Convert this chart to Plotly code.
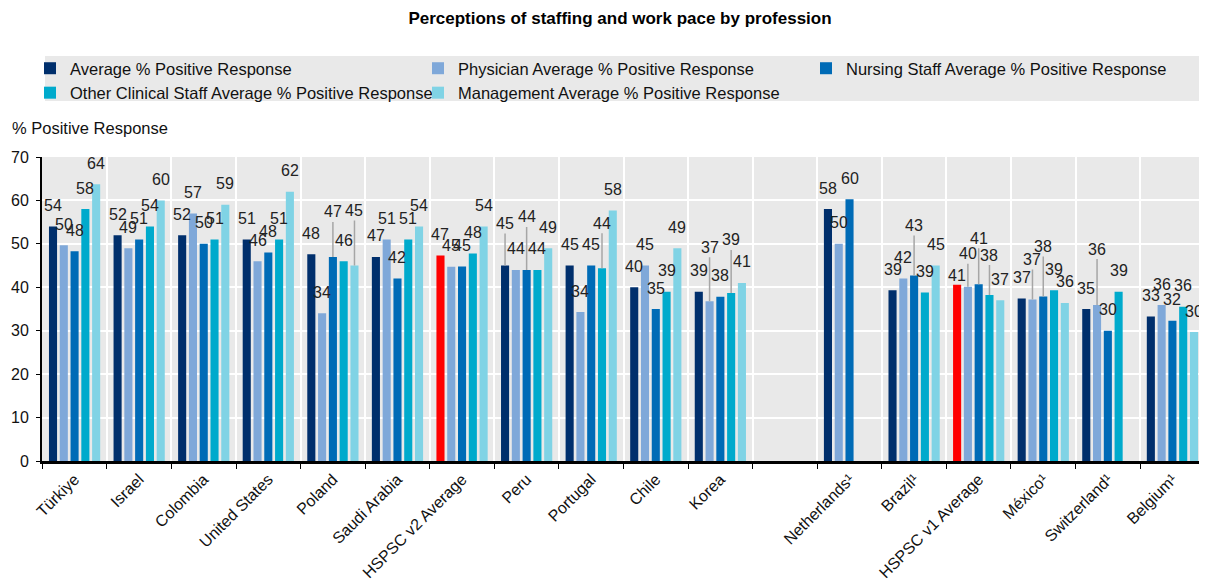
import plotly.graph_objects as go

categories = ["Türkiye", "Israel", "Colombia", "United States", "Poland", "Saudi Arabia",
              "HSPSC v2 Average", "Peru", "Portugal", "Chile", "Korea", " ",
              "Netherlands¹", "Brazil¹", "HSPSC v1 Average", "México¹", "Switzerland¹", "Belgium¹"]

average = [54, 52, 52, 51, 47.6, 47, 47.3, 45, 45, 40, 39, None, 58, 39.3, 40.6, 37.4, 35, 33.3]
physician = [49.7, 49, 57, 46, 34, 51, 44.7, 44, 34.3, 45, 36.8, None, 50, 42, 40.1, 37.2, 35.9, 35.9]
nursing = [48.3, 51, 50, 48, 47, 42, 44.8, 44, 45, 35, 37.8, None, 60.3, 42.7, 40.7, 37.9, 30, 32.3]
other_clinical = [58, 54, 51, 51, 46, 51, 47.8, 44, 44.4, 39, 38.7, None, None, 38.8, 38.2, 39.3, 39, 35.5]
management = [63.7, 60, 59, 62, 45, 54, 54, 49, 57.7, 49, 41, None, None, 45, 37, 36.4, None, 29.7]

series_names = ["Average % Positive Response",
                "Physician Average % Positive Response",
                "Nursing Staff Average % Positive Response",
                "Other Clinical Staff Average % Positive Response",
                "Management Average % Positive Response"]
series_values = [average, physician, nursing, other_clinical, management]
series_colors = ["#002F6C", "#7FA8D9", "#006BB6", "#00AACC", "#80D3E5"]
highlight = {"HSPSC v2 Average", "HSPSC v1 Average"}

# label placement (pixels above the bar top); labels lifted with a leader line
DEFAULT_LABEL_GAP = 21
label_gap = {
    ("Poland", 2): 45, ("Poland", 4): 55,
    ("Peru", 0): 42, ("Peru", 2): 53,
    ("Portugal", 3): 45,
    ("Korea", 1): 54, ("Korea", 3): 53,
    ("Brazil¹", 2): 50,
    ("HSPSC v1 Average", 0): 9, ("HSPSC v1 Average", 1): 33,
    ("HSPSC v1 Average", 2): 46, ("HSPSC v1 Average", 3): 40,
    ("México¹", 1): 40, ("México¹", 2): 50,
    ("Switzerland¹", 1): 56,
}
leader_lines = {k for k, v in label_gap.items() if v > 30}

FONT = "Liberation Sans Narrow, Arial Narrow, Liberation Sans, Arial, sans-serif"
W, H = 1199, 573
ML, MR, MT, MB = 34, 2, 149, 120
PLOT_W = W - ML - MR
BARGAP = 0.165
N_SERIES = len(series_values)
PITCH = (1 - BARGAP) * PLOT_W / len(categories) / N_SERIES

fig = go.Figure()
for i, (name, vals, col) in enumerate(zip(series_names, series_values, series_colors)):
    colors = [("#FF0000" if (i == 0 and c in highlight) else col) for c in categories]
    fig.add_trace(go.Bar(
        x=categories, y=vals, name=name,
        marker=dict(color=colors, line=dict(width=0)),
        hoverinfo="x+y+name",
    ))

annotations = []
for si, vals in enumerate(series_values):
    for cat, v in zip(categories, vals):
        if v is None:
            continue
        gap = label_gap.get((cat, si), DEFAULT_LABEL_GAP)
        ann = dict(x=cat, y=v, xref="x", yref="y", text=f"{round(v):d}",
                   xshift=(si - (N_SERIES - 1) / 2) * PITCH,
                   font=dict(family=FONT, size=16, color="#222222"))
        if (cat, si) in leader_lines:
            ann.update(showarrow=True, ax=0, ay=-gap, arrowhead=0, arrowwidth=1.5,
                       arrowcolor="#A6A6A6", standoff=0)
        else:
            ann.update(showarrow=False, yshift=gap, yanchor="middle", xanchor="center")
        annotations.append(ann)

annotations.append(dict(text="% Positive Response", x=(2 - ML) / PLOT_W, xref="paper",
                        xanchor="left", y=(H - MB - 120) / (H - MT - MB), yref="paper",
                        yanchor="middle", showarrow=False,
                        font=dict(family=FONT, size=16.5, color="#111111")))

PLOT_H = H - MT - MB
fig.update_layout(
    width=W, height=H,
    barmode="group", bargap=BARGAP, bargroupgap=0.25,
    paper_bgcolor="white", plot_bgcolor="#E9E9E9",
    margin=dict(l=ML, r=MR, t=MT, b=MB, autoexpand=False),
    font=dict(family=FONT, size=16, color="#111111"),
    title=dict(text="<b>Perceptions of staffing and work pace by profession</b>",
               x=612 / W, xanchor="center", y=1 - 10 / H, yanchor="middle",
               font=dict(family=FONT, size=17, color="#000000")),
    legend=dict(orientation="h", x=(22 - ML) / PLOT_W, xanchor="left",
                y=(H - MB - 43) / PLOT_H, yanchor="top",
                bgcolor="rgba(0,0,0,0)", entrywidth=343, entrywidthmode="pixels",
                font=dict(family=FONT, size=16.5, color="#111111"),
                traceorder="normal"),
    shapes=[dict(type="rect", xref="paper", yref="paper", layer="below",
                 x0=(37 - ML) / PLOT_W, x1=1, y0=(H - MB - 93) / PLOT_H,
                 y1=(H - MB - 48) / PLOT_H, fillcolor="#E9E9E9", line=dict(width=0))],
    annotations=annotations,
)

fig.update_yaxes(range=[0, 70], dtick=10, showgrid=True, gridcolor="white", gridwidth=2,
                 showline=True, linecolor="black", linewidth=2, ticks="outside",
                 ticklen=4, tickcolor="black", zeroline=False, ticklabelstandoff=4,
                 automargin=False,
                 tickfont=dict(family=FONT, size=16, color="#111111"))
fig.update_xaxes(type="category", tickson="boundaries", showgrid=True, gridcolor="white",
                 gridwidth=2, showline=True, linecolor="black", linewidth=2.5,
                 ticks="outside", ticklen=5, tickcolor="black", tickangle=-45,
                 automargin=False,
                 tickfont=dict(family=FONT, size=16, color="#111111"))

fig.write_html("out.html")
